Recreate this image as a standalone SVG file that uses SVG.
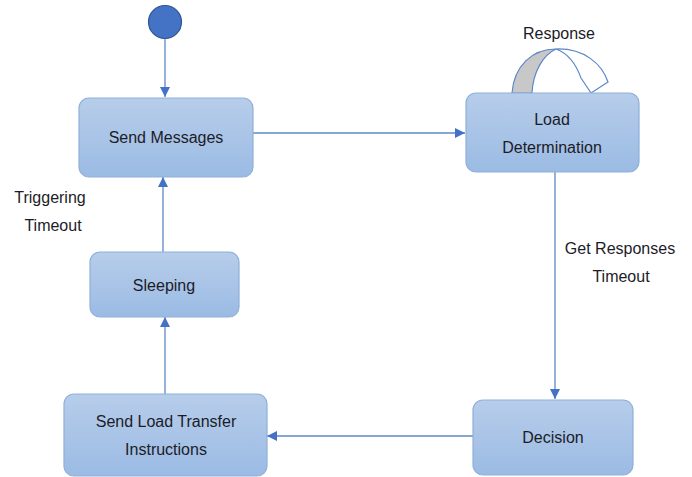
<svg xmlns="http://www.w3.org/2000/svg" width="692" height="477" viewBox="0 0 692 477">
<style>
.box{fill:url(#g);stroke:#8fb0da;stroke-width:1.2}
.t{font-family:"Liberation Sans",Arial,sans-serif;font-size:16px;fill:#1c1c28;text-anchor:middle}
.c{stroke:#5b87c9;stroke-width:1.3;fill:none;marker-end:url(#a)}
</style>
<defs>
<linearGradient id="g" x1="0" y1="0" x2="0" y2="1"><stop offset="0" stop-color="#b7cdea"/><stop offset="1" stop-color="#9bbbe4"/></linearGradient>
<marker id="a" viewBox="0 0 10 10" refX="10" refY="5" markerWidth="10" markerHeight="10" markerUnits="userSpaceOnUse" orient="auto"><path d="M0,0 L10,5 L0,10 z" fill="#4472c4"/></marker>
</defs>
<rect width="692" height="477" fill="#fff"/>
<g id="start"><circle cx="165" cy="22" r="16.5" fill="#4472c4" stroke="#2f5597" stroke-width="1.2"/></g>
<g id="connectors">
<line class="c" x1="165" y1="39" x2="165" y2="97"/>
<line class="c" x1="253" y1="133" x2="465" y2="133"/>
<line class="c" x1="555" y1="172" x2="555" y2="399"/>
<line class="c" x1="473" y1="436" x2="267" y2="436"/>
<line class="c" x1="165" y1="394" x2="165" y2="317"/>
<line class="c" x1="163" y1="252" x2="163" y2="177"/>
<g id="selfloop">
<path d="M512,93 C514,66 532,49 556,49 C543,55 533,72 532,93 Z" fill="#c8c8c8" stroke="#5b87c9" stroke-width="1.2"/>
<path d="M556,49 C584,48 602,64 608,82 L591,93 L581,78 C576,64 567,53 556,49 Z" fill="#fff" stroke="#5b87c9" stroke-width="1.2"/>
</g>
</g>
<g id="send-messages"><rect class="box" x="79" y="98" width="174" height="79" rx="10"/><text class="t" x="166" y="143">Send Messages</text></g>
<g id="load-determination"><rect class="box" x="466" y="93" width="173" height="79" rx="10"/><text class="t" x="552" y="125">Load</text><text class="t" x="552" y="153">Determination</text></g>
<g id="decision"><rect class="box" x="473" y="400" width="160" height="75" rx="10"/><text class="t" x="553" y="443">Decision</text></g>
<g id="send-load-transfer"><rect class="box" x="64" y="394" width="203" height="82" rx="10"/><text class="t" x="166" y="427">Send Load Transfer</text><text class="t" x="166" y="455">Instructions</text></g>
<g id="sleeping"><rect class="box" x="90" y="252" width="149" height="65" rx="10"/><text class="t" x="164" y="291">Sleeping</text></g>
<g id="labels">
<text class="t" x="50" y="203">Triggering</text>
<text class="t" x="53" y="231">Timeout</text>
<text class="t" x="620" y="254">Get Responses</text>
<text class="t" x="621" y="282">Timeout</text>
<text class="t" x="559" y="39">Response</text>
</g>
</svg>
